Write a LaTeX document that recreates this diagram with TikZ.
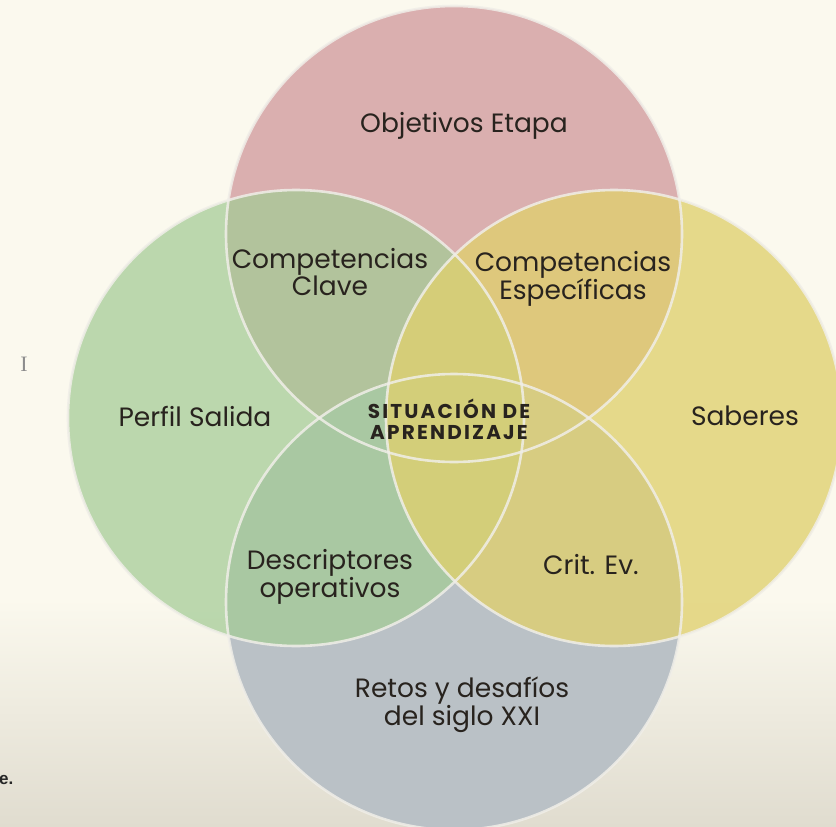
\documentclass[tikz,border=0pt]{standalone}
\usepackage{fontspec}
\setmainfont{Poppins}
\newfontfamily\cursorfont{Liberation Serif}
\newfontfamily\smallsans{Liberation Sans}
\definecolor{bgtop}{RGB}{251,249,238}
\definecolor{bgbot}{RGB}{224,220,207}
\definecolor{cT}{RGB}{218,175,175}
\definecolor{cB}{RGB}{186,193,198}
\definecolor{cL}{RGB}{163,203,149}
\definecolor{cR}{RGB}{224,208,110}
\definecolor{txt}{RGB}{40,35,30}
\definecolor{ring}{RGB}{240,238,232}
\tikzset{
  lbl/.style={text=txt, align=center, inner sep=0pt, font=\fontsize{26.5}{26.5}\selectfont},
  sitlbl/.style={text=txt, align=center, inner sep=0pt, font=\fontsize{20}{21}\selectfont\bfseries\addfontfeatures{LetterSpace=11}},
  ringline/.style={draw=ring, draw opacity=0.85, line width=2.6pt}
}
\begin{document}
\begin{tikzpicture}[x=1pt,y=-1pt]
\useasboundingbox (0,0) rectangle (836,827);
% background
\fill[bgtop] (0,0) rectangle (836,600);
\shade[top color=bgtop, bottom color=bgbot] (0,599) rectangle (836,827);
% circles
\coordinate (T) at (454,234);
\coordinate (B) at (454,602);
\coordinate (L) at (296,418);
\coordinate (R) at (614,418);
\fill[cT] (T) circle[radius=228pt];
\fill[cB] (B) circle[radius=228pt];
\fill[cL, fill opacity=0.72] (L) circle[radius=228pt];
\fill[cR, fill opacity=0.78] (R) circle[radius=228pt];
\draw[ringline] (T) circle[radius=228pt];
\draw[ringline] (B) circle[radius=228pt];
\draw[ringline] (L) circle[radius=228pt];
\draw[ringline] (R) circle[radius=228pt];
% labels
\node[lbl] (obj) at (464,126) {Objetivos Etapa};
\node[lbl] (cc) at (330,272) {Competencias\\Clave};
\node[lbl] (ce) at (573,279) {Competencias\\Específicas};
\node[lbl] (ps) at (195,416) {Perfil Salida};
\node[lbl] (sab) at (745,416) {Saberes};
\node[sitlbl] (sit) at (449,419) {SITUACIÓN DE\\APRENDIZAJE};
\node[lbl] (desc) at (330,577) {Descriptores\\operativos};
\node[lbl] (crit) at (591,564) {Crit. Ev.};
\node[lbl] (retos) at (462,705) {Retos y desafíos\\del siglo XXI};
\node[text=black!45, inner sep=0pt, font=\cursorfont\fontsize{22}{22}\selectfont] (cur) at (24,364) {I};
\node[text=black!85, inner sep=0pt, anchor=west, font=\smallsans\bfseries\fontsize{17}{17}\selectfont] (e) at (-1,780) {e.};
\end{tikzpicture}
\end{document}
